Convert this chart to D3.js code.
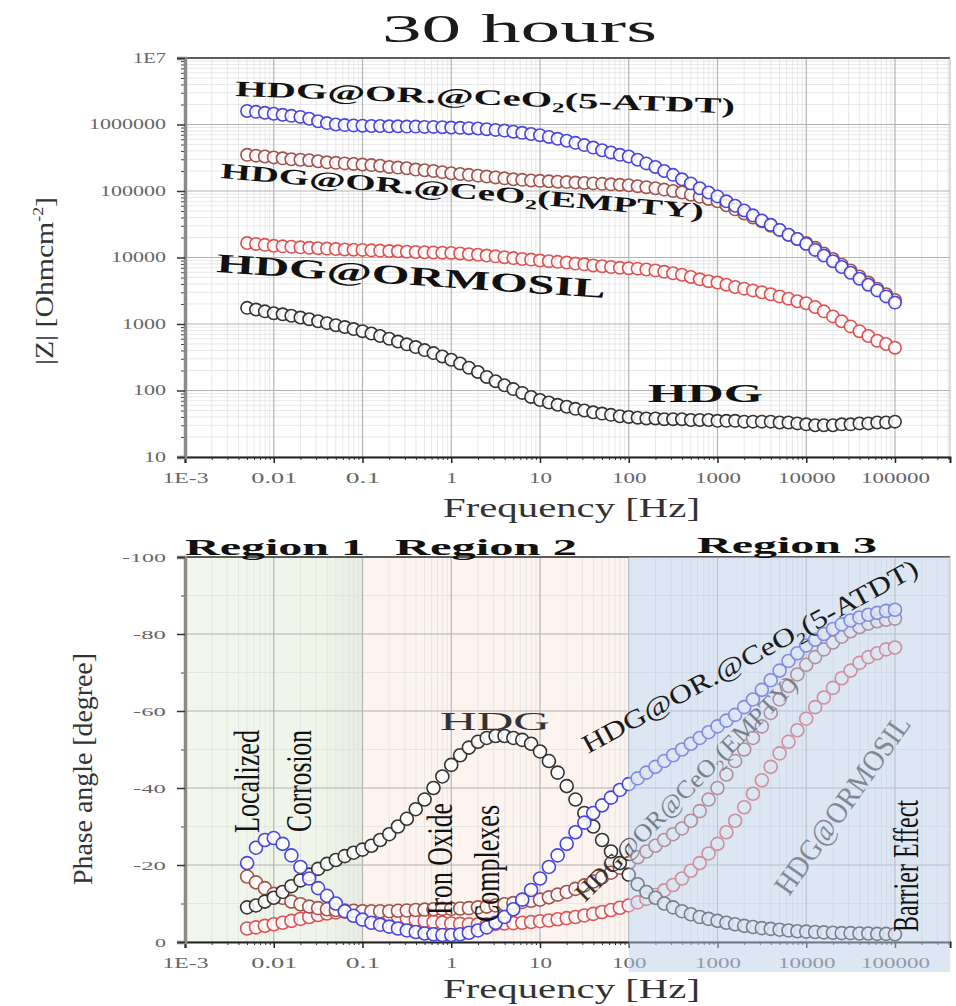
<!DOCTYPE html>
<html>
<head>
<meta charset="utf-8">
<script src="https://cdn.jsdelivr.net/npm/d3@7"></script>
<style>
  body { margin: 0; background: #fff; }
  text { font-family: "Liberation Serif", "Times New Roman", serif; }
</style>
</head>
<body>
<div id="chart"></div>
<script>
// frequencies (Hz), one point per 1/10 decade
const freq = [0.00501, 0.00631, 0.00794,
  0.01, 0.0126, 0.0158, 0.02, 0.0251, 0.0316, 0.0398, 0.0501, 0.0631, 0.0794,
  0.1, 0.126, 0.158, 0.2, 0.251, 0.316, 0.398, 0.501, 0.631, 0.794,
  1, 1.26, 1.58, 2, 2.51, 3.16, 3.98, 5.01, 6.31, 7.94,
  10, 12.6, 15.8, 20, 25.1, 31.6, 39.8, 50.1, 63.1, 79.4,
  100, 126, 158, 200, 251, 316, 398, 501, 631, 794,
  1000, 1260, 1580, 2000, 2510, 3160, 3980, 5010, 6310, 7940,
  10000, 12600, 15800, 20000, 25100, 31600, 39800, 50100, 63100, 79400,
  100000];

// |Z| values (Ohm cm^-2)
const zATDT = [1.6e6, 1.55e6, 1.5e6,
  1.45e6, 1.4e6, 1.35e6, 1.3e6, 1.22e6, 1.12e6, 1.05e6, 1.0e6, 9.8e5, 9.7e5,
  9.6e5, 9.5e5, 9.5e5, 9.4e5, 9.4e5, 9.3e5, 9.3e5, 9.2e5, 9.2e5, 9.1e5,
  9.0e5, 8.9e5, 8.8e5, 8.7e5, 8.5e5, 8.3e5, 8.1e5, 7.8e5, 7.5e5, 7.2e5,
  6.9e5, 6.5e5, 6.1e5, 5.7e5, 5.3e5, 4.9e5, 4.5e5, 4.1e5, 3.8e5, 3.5e5,
  3.3e5, 2.95e5, 2.6e5, 2.3e5, 2.0e5, 1.75e5, 1.5e5, 1.3e5, 1.1e5, 9.5e4,
  8.3e4, 7.0e4, 6.0e4, 5.1e4, 4.3e4, 3.6e4, 3.1e4, 2.6e4, 2.2e4, 1.9e4,
  1.6e4, 1.3e4, 1.07e4, 8.8e3, 7.2e3, 5.9e3, 4.8e3, 3.9e3, 3.2e3, 2.6e3,
  2.1e3];
const zEMPTY = [3.5e5, 3.4e5, 3.3e5,
  3.2e5, 3.1e5, 3.0e5, 2.95e5, 2.9e5, 2.8e5, 2.7e5, 2.65e5, 2.6e5, 2.55e5,
  2.5e5, 2.45e5, 2.4e5, 2.3e5, 2.25e5, 2.2e5, 2.1e5, 2.05e5, 2.0e5, 1.92e5,
  1.85e5, 1.8e5, 1.75e5, 1.7e5, 1.65e5, 1.6e5, 1.55e5, 1.5e5, 1.47e5, 1.44e5,
  1.42e5, 1.4e5, 1.38e5, 1.36e5, 1.34e5, 1.32e5, 1.3e5, 1.28e5, 1.26e5, 1.24e5,
  1.22e5, 1.18e5, 1.14e5, 1.1e5, 1.05e5, 1.0e5, 9.5e4, 8.8e4, 8.2e4, 7.6e4,
  7.0e4, 6.1e4, 5.3e4, 4.6e4, 4.0e4, 3.5e4, 3.0e4, 2.6e4, 2.2e4, 1.9e4,
  1.65e4, 1.4e4, 1.15e4, 9.5e3, 7.8e3, 6.4e3, 5.2e3, 4.2e3, 3.4e3, 2.8e3,
  2.3e3];
const zORMOSIL = [1.65e4, 1.6e4, 1.55e4,
  1.5e4, 1.47e4, 1.45e4, 1.42e4, 1.4e4, 1.38e4, 1.36e4, 1.34e4, 1.32e4, 1.31e4,
  1.3e4, 1.28e4, 1.27e4, 1.25e4, 1.24e4, 1.22e4, 1.21e4, 1.2e4, 1.19e4, 1.18e4,
  1.17e4, 1.15e4, 1.12e4, 1.1e4, 1.07e4, 1.04e4, 1.01e4, 9.8e3, 9.5e3, 9.3e3,
  9.0e3, 8.8e3, 8.6e3, 8.4e3, 8.1e3, 7.9e3, 7.6e3, 7.4e3, 7.2e3, 7.0e3,
  6.9e3, 6.8e3, 6.6e3, 6.4e3, 6.1e3, 5.8e3, 5.5e3, 5.1e3, 4.7e3, 4.4e3,
  4.2e3, 3.9e3, 3.6e3, 3.4e3, 3.2e3, 3.0e3, 2.8e3, 2.6e3, 2.4e3, 2.2e3,
  2.05e3, 1.8e3, 1.55e3, 1.3e3, 1.1e3, 920, 780, 660, 560, 500,
  440];
const zHDG = [1750, 1650, 1550,
  1450, 1400, 1330, 1250, 1180, 1100, 1030, 960, 900, 840,
  780, 720, 660, 600, 545, 495, 450, 405, 365, 325,
  290, 255, 220, 190, 160, 138, 120, 105, 92, 80,
  72, 66, 61, 57, 53, 50, 47, 45, 43, 41,
  40, 39, 38, 38, 37, 37, 37, 36, 36, 36,
  35, 35, 35, 34, 34, 34, 34, 33, 33, 32,
  31, 30, 30, 30, 31, 31, 32, 32, 33, 33,
  34];

// phase angle values (degree)
const pATDT = [-20.5, -24.5, -26.5,
  -27, -25.5, -22.5, -19.5, -16.5, -14, -12, -10, -8, -6.8,
  -5.8, -5, -4.5, -4, -3.5, -3, -2.6, -2.2, -2, -1.8,
  -1.8, -2, -2.4, -3, -3.8, -5, -6.5, -8.5, -11, -13.5,
  -16.5, -19.5, -22.5, -25.5, -28.5, -31, -33.5, -35.5, -37.5, -39.5,
  -41, -42.5, -44, -45.5, -47, -48.5, -50, -51.5, -53, -54.5,
  -56, -57.5, -59, -61, -63, -65.5, -68, -70.5, -73, -75,
  -77, -78.5, -80, -81.3, -82.5, -83.5, -84.3, -85, -85.5, -86,
  -86.3];
const pEMPTY = [-17, -15.5, -14,
  -12.5, -11.5, -10.5, -9.8, -9.2, -8.8, -8.5, -8.3, -8.2, -8.1,
  -8, -8, -8, -8, -8.1, -8.2, -8.3, -8.4, -8.5, -8.6,
  -8.6, -8.7, -8.8, -9, -9.2, -9.5, -9.8, -10.1, -10.4, -10.7,
  -11, -11.6, -12.3, -13, -13.8, -14.7, -15.7, -16.8, -18, -19.3,
  -20.5, -22, -23.5, -25, -26.5, -28, -29.5, -31.5, -34, -37,
  -40, -43.5, -47, -50, -53, -56, -59.5, -63, -66.5, -69.5,
  -72, -74, -76, -77.8, -79.3, -80.7, -81.8, -82.7, -83.3, -83.7,
  -84];
const pORMOSIL = [-3.5, -3.8, -4.2,
  -4.6, -5, -5.5, -6, -6.5, -7, -7.4, -7.7, -7.9, -8,
  -7.9, -7.7, -7.4, -7, -6.6, -6.2, -5.8, -5.5, -5.2, -5,
  -4.8, -4.7, -4.6, -4.6, -4.6, -4.7, -4.8, -4.9, -5, -5.2,
  -5.4, -5.6, -5.9, -6.2, -6.5, -6.9, -7.3, -7.8, -8.3, -8.9,
  -9.5, -10.3, -11.2, -12.2, -13.4, -14.8, -16.5, -18.5, -20.5, -23,
  -25.5, -28.5, -31.5, -35, -38.5, -42, -45.5, -49, -52, -55,
  -58, -61, -63.5, -66, -68.5, -70.5, -72.5, -74, -75, -76,
  -76.5];
const pHDG = [-9, -9.5, -10.5,
  -11.5, -13, -14.5, -16, -17.5, -19, -20.3, -21.3, -22.3, -23.2,
  -24, -25, -26.5, -28, -30, -32, -34.5, -37, -40, -43,
  -46, -48.5, -50.5, -52, -53, -53.5, -53.5, -53, -52.5, -51.5,
  -49.5, -47, -44, -40.5, -37, -33.5, -30, -26.5, -23.5, -20.5,
  -17.5, -15, -13, -11.5, -10, -9, -8, -7.2, -6.5, -6,
  -5.5, -5, -4.6, -4.2, -3.9, -3.6, -3.4, -3.2, -3.0, -2.8,
  -2.7, -2.6, -2.5, -2.4, -2.3, -2.3, -2.2, -2.2, -2.1, -2.1,
  -2.0];

// ticks
const xTickVals = [1e-3, 1e-2, 0.1, 1, 10, 100, 1000, 1e4, 1e5];
const xTickLabels = ["1E-3", "0.01", "0.1", "1", "10", "100", "1000", "10000", "100000"];
const zTickVals = [10, 100, 1000, 1e4, 1e5, 1e6, 1e7];
const zTickLabels = ["10", "100", "1000", "10000", "100000", "1000000", "1E7"];
const pTickVals = [0, -20, -40, -60, -80, -100];
const pTickLabels = ["0", "-20", "-40", "-60", "-80", "-100"];
const regionEdges = [1e-3, 0.1, 100];

const W = 956, H = 1006;
const svg = d3.select("#chart").append("svg").attr("width", W).attr("height", H);

const x = d3.scaleLog().domain([1e-3, Math.pow(10, 5.62)]).range([185, 950]);
const yZ = d3.scaleLog().domain([10, 1e7]).range([457, 58]);
const yP = d3.scaleLinear().domain([0, -100]).range([942, 557]);

const colors = { ATDT: "#4646e0", EMPTY: "#a4524c", ORMOSIL: "#e05252", HDG: "#333333" };

// minor log positions (2..9 per decade)
function minorLog(e0, e1, max) {
  const out = [];
  for (let e = e0; e <= e1; e++) {
    const d = Math.pow(10, e);
    for (let k = 2; k <= 9; k++) if (d * k <= max) out.push(d * k);
  }
  return out;
}
const xMinor = minorLog(-3, 5, x.domain()[1]);

// gradient for region 1
const defs = svg.append("defs");
const grad = defs.append("linearGradient").attr("id", "g1");
grad.append("stop").attr("offset", "0%").attr("stop-color", "#f2f7ed");
grad.append("stop").attr("offset", "75%").attr("stop-color", "#eff5e9");
grad.append("stop").attr("offset", "100%").attr("stop-color", "#e7eee1");

function drawGrid(g, yScale, yMajor, yMinor) {
  const [y0, y1] = [yScale.range()[1], yScale.range()[0]];
  const [x0, x1] = x.range();
  g.append("g").selectAll("line").data(xMinor).join("line")
    .attr("x1", d => x(d)).attr("x2", d => x(d)).attr("y1", y0).attr("y2", y1)
    .attr("stroke", "#e2e2e2").attr("stroke-width", 0.8);
  g.append("g").selectAll("line").data(yMinor).join("line")
    .attr("x1", x0).attr("x2", x1).attr("y1", d => yScale(d)).attr("y2", d => yScale(d))
    .attr("stroke", "#e2e2e2").attr("stroke-width", 0.8);
  g.append("g").selectAll("line").data(xTickVals).join("line")
    .attr("x1", d => x(d)).attr("x2", d => x(d)).attr("y1", y0).attr("y2", y1)
    .attr("stroke", "#b4b4b4").attr("stroke-width", 1.2);
  g.append("g").selectAll("line").data(yMajor).join("line")
    .attr("x1", x0).attr("x2", x1).attr("y1", d => yScale(d)).attr("y2", d => yScale(d))
    .attr("stroke", "#b4b4b4").attr("stroke-width", 1.2);
  // frame
  g.append("line").attr("x1", x0).attr("x2", x1).attr("y1", y0).attr("y2", y0)
    .attr("stroke", "#333").attr("stroke-width", 1.6);
  g.append("line").attr("x1", x1).attr("x2", x1).attr("y1", y0).attr("y2", y1)
    .attr("stroke", "#bbb").attr("stroke-width", 1);
}

function drawAxes(g, yScale, yVals, yLabels, yMinor, labelSize) {
  const y1 = yScale.range()[0];
  // bottom axis
  const bx = g.append("g").attr("transform", `translate(0,${y1})`)
    .call(d3.axisBottom(x).tickValues(xMinor).tickSize(3).tickFormat(""));
  bx.select(".domain").remove();
  bx.selectAll("line").attr("stroke", "#333");
  const ax = g.append("g").attr("transform", `translate(0,${y1})`)
    .call(d3.axisBottom(x).tickValues(xTickVals).tickSize(6).tickPadding(10)
      .tickFormat((d, i) => xTickLabels[i]));
  ax.select(".domain").attr("stroke", "#222").attr("stroke-width", 2);
  ax.selectAll("line").attr("stroke", "#222").attr("stroke-width", 1.5);
  ax.selectAll("text").attr("font-size", 14).attr("fill", "#666")
    .attr("font-family", "Liberation Serif")
    .attr("textLength", (d, i) => xTickLabels[i].length * 11.5)
    .attr("lengthAdjust", "spacingAndGlyphs");
  // left axis
  const lm = g.append("g").attr("transform", `translate(${x.range()[0]},0)`)
    .call(d3.axisLeft(yScale).tickValues(yMinor).tickSize(4).tickFormat(""));
  lm.select(".domain").remove();
  lm.selectAll("line").attr("stroke", "#444");
  const ay = g.append("g").attr("transform", `translate(${x.range()[0]},0)`)
    .call(d3.axisLeft(yScale).tickValues(yVals).tickSize(8).tickPadding(11)
      .tickFormat((d, i) => yLabels[i]));
  ay.select(".domain").attr("stroke", "#8a8a8a").attr("stroke-width", 3.5);
  ay.selectAll("line").attr("stroke", "#333").attr("stroke-width", 1.5);
  ay.selectAll("text").attr("font-size", labelSize).attr("fill", "#666")
    .attr("font-family", "Liberation Serif")
    .attr("textLength", (d, i) => yLabels[i].length * 11)
    .attr("lengthAdjust", "spacingAndGlyphs");
}

function drawSeries(g, yScale, vals, color, r) {
  g.append("g").selectAll("circle").data(freq).join("circle")
    .attr("cx", d => x(d)).attr("cy", (d, i) => yScale(vals[i])).attr("r", r)
    .attr("fill", "#fff").attr("fill-opacity", 0.85)
    .attr("stroke", color).attr("stroke-width", 1.6);
}

// text helper: label with optional subscript "2" or superscript
function label(g, opts) {
  const t = g.append("text")
    .attr("transform", opts.transform)
    .attr("font-size", opts.size)
    .attr("font-weight", opts.bold ? "bold" : "normal")
    .attr("fill", opts.fill || "#111")
    .attr("textLength", opts.len)
    .attr("lengthAdjust", "spacingAndGlyphs");
  if (opts.sub) {
    const s = opts.size;
    t.append("tspan").text(opts.sub[0]);
    t.append("tspan").attr("font-size", s * 0.62).attr("dy", s * 0.22).text("2");
    t.append("tspan").attr("dy", -s * 0.22).text(opts.sub[1]);
  } else if (opts.sup) {
    const s = opts.size;
    t.append("tspan").text(opts.sup[0]);
    t.append("tspan").attr("font-size", s * 0.6).attr("dy", -s * 0.4).text(opts.sup[1]);
    t.append("tspan").attr("dy", s * 0.4).text(opts.sup[2]);
  } else {
    t.text(opts.text);
  }
  return t;
}

// ---------- title ----------
label(svg, { text: "30 hours", transform: "translate(382,42)", size: 40, len: 275, fill: "#1a1a1a" });

// ---------- top plot: |Z| ----------
const topG = svg.append("g");
const zMinor = minorLog(1, 6, 1e7);
drawGrid(topG, yZ, zTickVals, zMinor);
drawAxes(topG, yZ, zTickVals, zTickLabels, zMinor, 14);
drawSeries(topG, yZ, zHDG, colors.HDG, 6.2);
drawSeries(topG, yZ, zORMOSIL, colors.ORMOSIL, 6.2);
drawSeries(topG, yZ, zEMPTY, colors.EMPTY, 6.2);
drawSeries(topG, yZ, zATDT, colors.ATDT, 6.2);

label(topG, { sub: ["HDG@OR.@CeO", "(5-ATDT)"], transform: "translate(235,96) rotate(2)", size: 22, bold: true, len: 500 });
label(topG, { sub: ["HDG@OR.@CeO", "(EMPTY)"], transform: "translate(220,178) rotate(4.8)", size: 22, bold: true, len: 485 });
label(topG, { text: "HDG@ORMOSIL", transform: "translate(216,272) rotate(3.8)", size: 27, bold: true, len: 390 });
label(topG, { text: "HDG", transform: "translate(648,402)", size: 25, bold: true, len: 115 });

label(topG, { text: "Frequency [Hz]", transform: "translate(443,517)", size: 28, len: 257, fill: "#333" });
label(topG, { sup: ["|Z| [Ohmcm", "-2", "]"], transform: "translate(53,365) rotate(-90)", size: 25, len: 168, fill: "#333" });

// ---------- bottom plot: phase ----------
const botG = svg.append("g");
const [rx0, rx1, rx2] = regionEdges.map(d => x(d));
botG.append("rect").attr("x", rx0).attr("y", yP(-100)).attr("width", rx1 - rx0)
  .attr("height", yP(0) - yP(-100)).attr("fill", "url(#g1)");
botG.append("rect").attr("x", rx1).attr("y", yP(-100)).attr("width", rx2 - rx1)
  .attr("height", yP(0) - yP(-100)).attr("fill", "#fdf3ef");

const pMinor = [-10, -30, -50, -70, -90];
drawGrid(botG, yP, pTickVals, pMinor);
drawAxes(botG, yP, pTickVals, pTickLabels, pMinor, 13);

drawSeries(botG, yP, pORMOSIL, colors.ORMOSIL, 6.5);
drawSeries(botG, yP, pEMPTY, colors.EMPTY, 6.5);
drawSeries(botG, yP, pHDG, colors.HDG, 6.5);
drawSeries(botG, yP, pATDT, colors.ATDT, 6.5);

// labels underneath the region 3 shading
label(botG, { sub: ["HDG@OR@CeO", "(EMPTY)"], transform: "translate(585,903) rotate(-45.4)", size: 25, len: 305, fill: "#333" });
label(botG, { text: "HDG@ORMOSIL", transform: "translate(789,897) rotate(-54.6)", size: 30, len: 212, fill: "#444" });

// region 3 shading (over the data)
botG.append("rect").attr("x", rx2).attr("y", yP(-100)).attr("width", x.range()[1] - rx2)
  .attr("height", 972 - yP(-100)).attr("fill", "rgb(187,205,231)").attr("fill-opacity", 0.5);

// labels over everything
label(botG, { text: "Region 1", transform: "translate(185,555)", size: 24, bold: true, len: 180 });
label(botG, { text: "Region 2", transform: "translate(395,555)", size: 24, bold: true, len: 182 });
label(botG, { text: "Region 3", transform: "translate(697,553)", size: 24, bold: true, len: 180 });
label(botG, { text: "Localized", transform: "translate(259,833) rotate(-90)", size: 36, len: 103 });
label(botG, { text: "Corrosion", transform: "translate(311,832) rotate(-90)", size: 36, len: 102 });
label(botG, { text: "Iron Oxide", transform: "translate(452,915) rotate(-90)", size: 36, len: 112 });
label(botG, { text: "Complexes", transform: "translate(499,922) rotate(-90)", size: 36, len: 117 });
label(botG, { text: "Barrier Effect", transform: "translate(918,932) rotate(-90)", size: 36, len: 132 });
label(botG, { text: "HDG", transform: "translate(440,730)", size: 26, len: 110, fill: "#333" });
label(botG, { sub: ["HDG@OR.@CeO", "(5-ATDT)"], transform: "translate(588,754) rotate(-28.5)", size: 26, len: 378, fill: "#1a1a1a" });

label(botG, { text: "Frequency [Hz]", transform: "translate(443,998)", size: 27, len: 257, fill: "#333" });
label(botG, { text: "Phase angle [degree]", transform: "translate(92,885) rotate(-90)", size: 28, len: 232, fill: "#333" });
</script>
</body>
</html>
